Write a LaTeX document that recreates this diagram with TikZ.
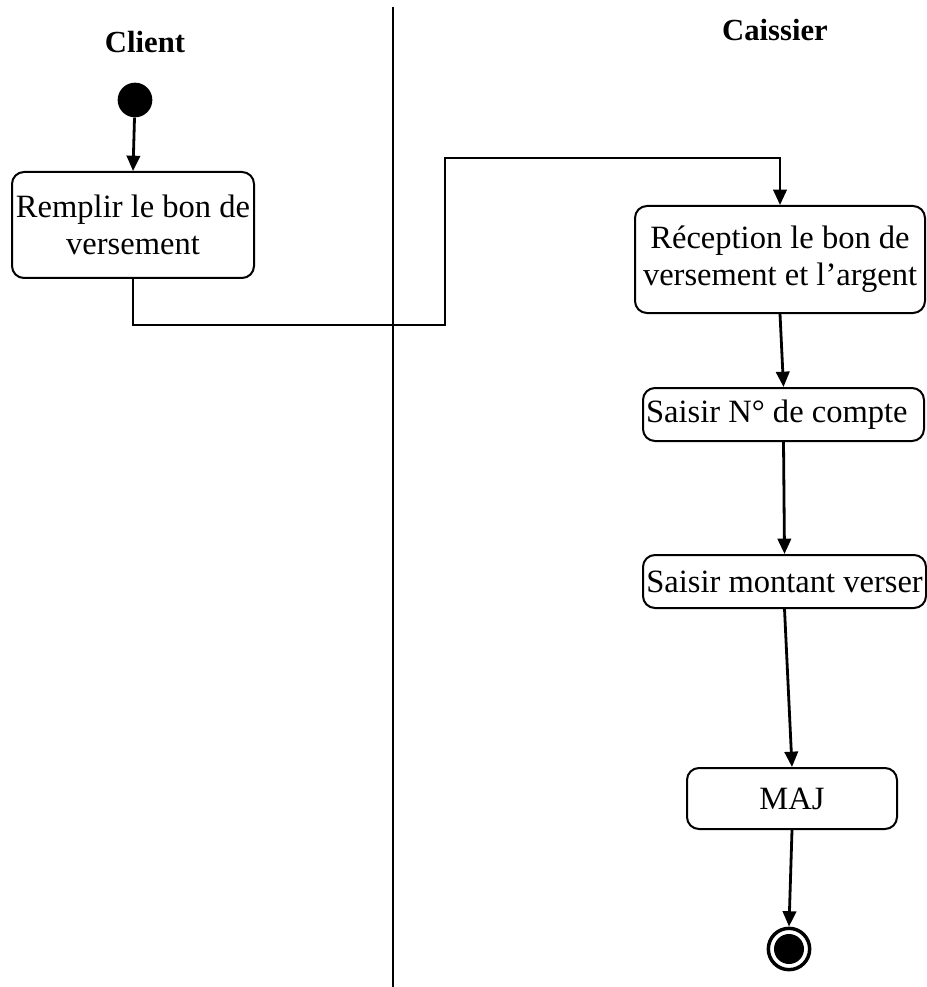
\documentclass[tikz,border=0pt]{standalone}
\usepackage{fontspec}
\setmainfont{Liberation Serif}
\usetikzlibrary{arrows.meta}
\begin{document}
\begin{tikzpicture}[x=0.75pt,y=-0.75pt,
  act/.style={draw,rounded corners=9pt,line width=1.5pt,inner sep=0pt,align=center,
    font=\fontsize{24.4pt}{27.5pt}\selectfont},
  title/.style={font=\fontsize{23pt}{27pt}\selectfont\bfseries},
  flow/.style={line width=2.1pt,-{Triangle[length=11.5pt,width=10pt]}}]
\useasboundingbox[fill=white] (0,0) rectangle (926,987);
% swimlane divider
\draw[line width=1.6pt] (393,7) -- (393,987);
% titles
\node[title] (tclient) at (145,42) {Client};
\node[title] (tcaissier) at (775,30) {Caissier};
% start
\node[circle,fill=black,minimum size=26pt,inner sep=0pt] (start) at (135,100) {};
% activities
\node[act,minimum width=181.5pt,minimum height=79.5pt] (b1) at (133,225) {Remplir le bon de\\versement};
\node[act,minimum width=217.5pt,minimum height=80.25pt] (b2) at (780,259.5) {Réception le bon de\\versement et l’argent};
\node[act,minimum width=210.75pt,minimum height=39.75pt] (b3) at (783.5,414.5) {Saisir N° de compte\hspace*{10pt}};
\node[act,minimum width=212.25pt,minimum height=39.75pt] (b4) at (784.5,581.5) {Saisir montant verser};
\node[act,minimum width=157.5pt,minimum height=45.75pt] (b5) at (792,798.5) {MAJ};
% end
\node[circle,draw,line width=2.6pt,fill=white,minimum size=31pt,inner sep=0pt] (end) at (789,949) {};
\fill (end.center) circle[radius=11.25pt];
% bends
\coordinate (k1) at (445,325);
\coordinate (k2) at (780,158);
% connectors
\draw[flow] (start) -- (b1.north);
\draw[flow] (b1.south) |- (k1) |- (k2) -- (b2.north);
\draw[flow] (b2.south) -- (b3.north);
\draw[flow] (b3.south) -- (b4.north);
\draw[flow] (b4.south) -- (b5.north);
\draw[flow] (b5.south) -- (end.north);
\end{tikzpicture}
\end{document}
